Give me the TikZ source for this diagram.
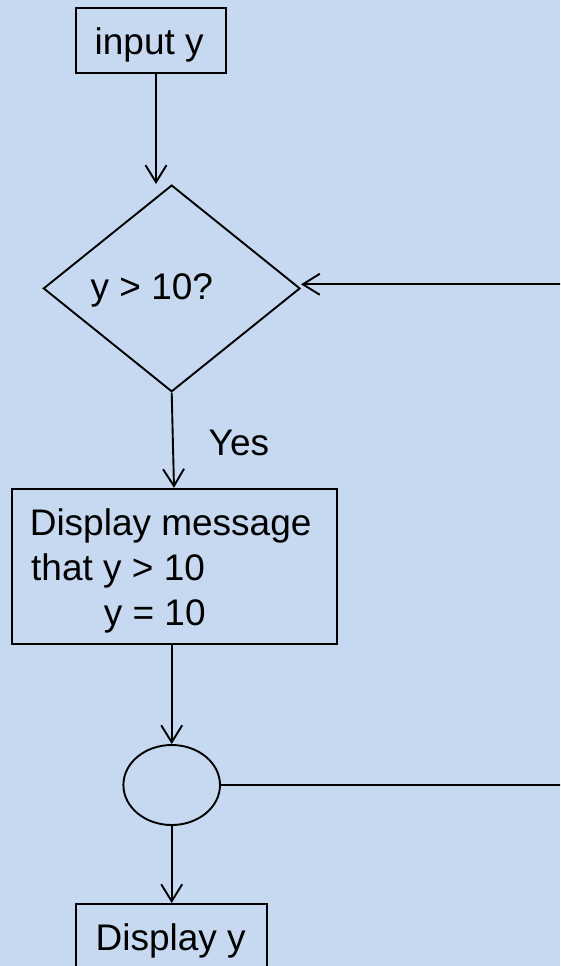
\documentclass[tikz,border=0pt]{standalone}
\usepackage{fontspec}
\setmainfont{Liberation Sans}
\usetikzlibrary{shapes.geometric,arrows.meta}
\definecolor{bgblue}{RGB}{198,217,241}
\begin{document}
\begin{tikzpicture}[x=1pt,y=-1pt,
  lw/.style={line width=1.9pt},
  box/.style={draw,lw,rectangle,inner sep=0pt},
  txt/.style={inner sep=0pt,anchor=base west,font=\fontsize{37}{45}\selectfont},
  arr/.style={lw,-{Straight Barb[length=17pt,width=21pt]}}]
\fill[bgblue] (0,0) rectangle (560,966);
\useasboundingbox (0,0) rectangle (560,966);
\clip (0,0) rectangle (560,966);
% nodes
\node[box,minimum width=150pt,minimum height=65pt] (inp) at (151,40.7) {};
\node[txt] (inpt) at (94.5,55) {input y};
\node[draw,lw,diamond,inner sep=0pt,minimum width=256.7pt,minimum height=206.7pt] (dec) at (171.7,288.4) {};
\node[txt] (dect) at (90.5,299.3) {y > 10?};
\node[txt] (yes) at (208.5,455) {Yes};
\node[box,minimum width=325.6pt,minimum height=155.3pt] (msg) at (174.5,566.4) {};
\node[txt] (m1) at (29.6,535) {Display message};
\node[txt] (m2) at (31,580) {that y > 10};
\node[txt] (m3) at (103.6,625) {y = 10};
\node[draw,lw,ellipse,inner sep=0pt,minimum width=96.6pt,minimum height=80pt] (circ) at (171.7,785) {};
\node[box,minimum width=191.6pt,minimum height=90pt] (out) at (171.5,949) {};
\node[txt] (outt) at (95.4,950.7) {Display y};
\coordinate (r1) at (562,284.3);
\coordinate (r2) at (562,785);
\coordinate (a1) at (156,73.3);
\coordinate (a2) at (156,184);
% connectors
\draw[arr] (a1) -- (a2);
\draw[arr] (r1) -- (dec.east |- r1);
\draw[arr] (dec.south) -- (msg.north -| 174,0);
\draw[arr] (msg.south -| circ.north) -- (circ.north);
\draw[lw] (circ.east) -- (r2);
\draw[arr] (circ.south) -- (out.north -| circ.south);
\end{tikzpicture}
\end{document}
